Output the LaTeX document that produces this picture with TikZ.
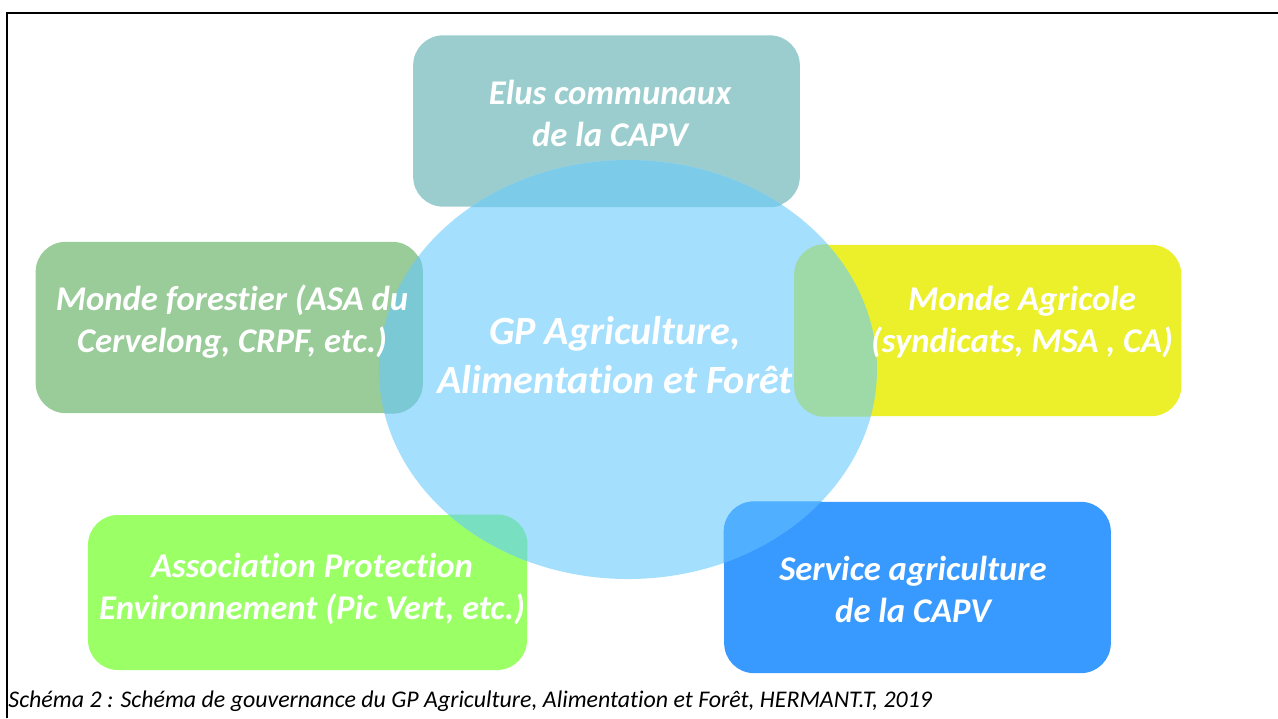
\documentclass[tikz,border=0pt]{standalone}
\usepackage{fontspec}
\setmainfont[Ligatures=NoCommon]{Carlito}
\usetikzlibrary{shapes.geometric}

\definecolor{elusC}{HTML}{9BCDCE}
\definecolor{foretC}{HTML}{99CC99}
\definecolor{agriC}{HTML}{EBF02A}
\definecolor{assoC}{HTML}{9BFF66}
\definecolor{servC}{HTML}{3899FF}
\definecolor{gpC}{HTML}{A4DFFD}
% couleurs des recouvrements avec l'ellipse
\definecolor{elusX}{HTML}{7CCBE8}
\definecolor{foretX}{HTML}{7AC9D5}
\definecolor{agriX}{HTML}{9DDAA8}
\definecolor{assoX}{HTML}{78DFC0}
\definecolor{servX}{HTML}{50B0FF}

\tikzset{
  acteur/.style={rectangle, rounded corners=0.45cm, inner sep=0pt,
    minimum width=5.8cm, minimum height=2.57cm},
  etiquette/.style={text=white, align=center, font=\fontsize{14.8}{17.9}\selectfont\bfseries\itshape},
}

\begin{document}
\begin{tikzpicture}[x=0.015cm, y=-0.015cm]
\useasboundingbox (0,0) rectangle (1278,718);
\draw[line width=0.7pt] (7,718) -- (7,13) -- (1278,13);

% acteurs sous l'ellipse
\node[acteur, fill=elusC] (elus) at (606.5,121) {};
\node[acteur, fill=assoC, minimum width=6.585cm, minimum height=2.325cm] (asso) at (307.5,592.5) {};
% le GP au centre
\node[ellipse, fill=gpC, inner sep=0pt, minimum width=7.47cm, minimum height=6.285cm] (gp) at (628,369.5) {};
% acteurs sur l'ellipse
\node[acteur, fill=foretC] (foret) at (229,327.5) {};
\node[acteur, fill=agriC] (agri) at (988,330.5) {};
\node[acteur, fill=servC] (serv) at (917.5,587.5) {};

% recouvrements
\begin{scope}
\clip (gp.center) ellipse [x radius=3.735cm, y radius=3.1425cm];
\fill[elusX, rounded corners=0.45cm] (elus.south west) rectangle (elus.north east);
\fill[assoX, rounded corners=0.45cm] (asso.south west) rectangle (asso.north east);
\fill[foretX, rounded corners=0.45cm] (foret.south west) rectangle (foret.north east);
\fill[agriX, rounded corners=0.45cm] (agri.south west) rectangle (agri.north east);
\fill[servX, rounded corners=0.45cm] (serv.south west) rectangle (serv.north east);
\end{scope}

% textes
\node[etiquette] (elus-t) at (610,113) {Elus communaux\\de la CAPV};
\node[etiquette] (foret-t) at (232,322) {Monde forestier (ASA du\\Cervelong, CRPF, etc.)};
\node[etiquette] (agri-t) at (1022,322) {Monde Agricole\\(syndicats, MSA , CA)};
\node[etiquette, font=\fontsize{17.1}{20.9}\selectfont\bfseries\itshape] (gp-t) at (615,355) {GP Agriculture,\\Alimentation et Forêt};
\node[etiquette] (asso-t) at (312,589) {Association Protection\\Environnement (Pic Vert, etc.)};
\node[etiquette] (serv-t) at (913,589) {Service agriculture\\de la CAPV};

\node[anchor=base west, inner sep=0pt, font=\fontsize{10.2}{12}\selectfont\itshape] (legende) at (8,707)
  {Schéma 2 : Schéma de gouvernance du GP Agriculture, Alimentation et Forêt, HERMANT.T, 2019};
\end{tikzpicture}
\end{document}
